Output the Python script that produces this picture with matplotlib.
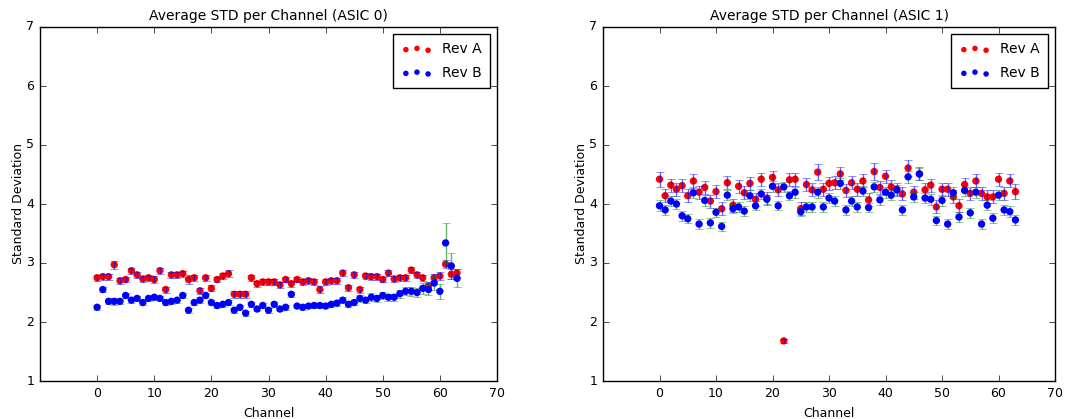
import numpy as np
import matplotlib
matplotlib.use("Agg")
import matplotlib.pyplot as plt

plt.style.use('classic')
plt.rcParams['font.family'] = ['DejaVu Sans']

channels = list(range(64))

# ASIC 0
a0_revA = [2.75, 2.77, 2.77, 2.97, 2.70, 2.72, 2.87, 2.80, 2.73, 2.75, 2.72, 2.87, 2.55, 2.80, 2.80, 2.82,
           2.72, 2.75, 2.53, 2.75, 2.57, 2.72, 2.78, 2.82, 2.47, 2.47, 2.47, 2.75, 2.65, 2.68, 2.68, 2.68,
           2.63, 2.72, 2.65, 2.72, 2.68, 2.70, 2.68, 2.55, 2.68, 2.70, 2.70, 2.83, 2.58, 2.80, 2.55, 2.78,
           2.77, 2.77, 2.72, 2.83, 2.73, 2.75, 2.75, 2.88, 2.80, 2.75, 2.61, 2.75, 2.78, 2.98, 2.81, 2.83]
a0_revA_err = [0.05, 0.05, 0.05, 0.07, 0.05, 0.05, 0.05, 0.05, 0.05, 0.05, 0.06, 0.05, 0.05, 0.05, 0.05, 0.05,
               0.08, 0.05, 0.05, 0.05, 0.05, 0.05, 0.05, 0.06, 0.06, 0.06, 0.06, 0.05, 0.05, 0.05, 0.05, 0.05,
               0.05, 0.05, 0.05, 0.05, 0.05, 0.05, 0.05, 0.06, 0.05, 0.05, 0.05, 0.05, 0.05, 0.05, 0.05, 0.05,
               0.05, 0.05, 0.05, 0.05, 0.05, 0.05, 0.05, 0.05, 0.05, 0.05, 0.06, 0.06, 0.06, 0.07, 0.08, 0.07]
a0_revB = [2.25, 2.55, 2.35, 2.35, 2.35, 2.45, 2.37, 2.40, 2.33, 2.40, 2.42, 2.40, 2.33, 2.35, 2.37, 2.45,
           2.20, 2.33, 2.37, 2.45, 2.33, 2.28, 2.30, 2.33, 2.20, 2.25, 2.15, 2.30, 2.22, 2.28, 2.20, 2.30,
           2.22, 2.25, 2.47, 2.27, 2.25, 2.27, 2.28, 2.28, 2.27, 2.30, 2.32, 2.37, 2.30, 2.33, 2.40, 2.37,
           2.42, 2.40, 2.45, 2.42, 2.42, 2.48, 2.52, 2.52, 2.50, 2.57, 2.55, 2.66, 2.52, 3.34, 2.95, 2.74]
a0_revB_err = [0.04, 0.04, 0.05, 0.06, 0.04, 0.04, 0.04, 0.04, 0.04, 0.04, 0.04, 0.04, 0.04, 0.04, 0.04, 0.04,
               0.04, 0.04, 0.05, 0.04, 0.04, 0.04, 0.04, 0.05, 0.04, 0.04, 0.04, 0.04, 0.04, 0.04, 0.04, 0.04,
               0.04, 0.04, 0.04, 0.04, 0.04, 0.04, 0.04, 0.04, 0.04, 0.04, 0.05, 0.05, 0.05, 0.05, 0.06, 0.05,
               0.07, 0.06, 0.06, 0.06, 0.06, 0.07, 0.07, 0.08, 0.08, 0.09, 0.10, 0.12, 0.13, 0.33, 0.22, 0.15]

# ASIC 1
a1_revA = [4.42, 4.14, 4.32, 4.25, 4.31, 4.14, 4.39, 4.20, 4.28, 4.05, 4.21, 3.92, 4.36, 3.98, 4.30, 4.19,
           4.35, 4.08, 4.42, 4.10, 4.45, 4.24, 1.68, 4.41, 4.42, 3.92, 4.33, 4.24, 4.54, 4.25, 4.35, 4.36,
           4.51, 4.23, 4.36, 4.25, 4.39, 4.07, 4.55, 4.28, 4.47, 4.29, 4.25, 4.17, 4.61, 4.20, 4.51, 4.24,
           4.32, 3.95, 4.25, 4.25, 4.12, 3.97, 4.33, 4.18, 4.39, 4.18, 4.12, 4.12, 4.42, 4.18, 4.39, 4.21]
a1_revA_err = [0.13, 0.11, 0.11, 0.11, 0.11, 0.11, 0.12, 0.11, 0.11, 0.11, 0.11, 0.11, 0.11, 0.11, 0.11, 0.11,
               0.11, 0.11, 0.11, 0.11, 0.11, 0.11, 0.03, 0.11, 0.11, 0.11, 0.11, 0.11, 0.14, 0.11, 0.11, 0.11,
               0.11, 0.11, 0.11, 0.11, 0.11, 0.11, 0.14, 0.11, 0.11, 0.11, 0.11, 0.11, 0.14, 0.11, 0.11, 0.11,
               0.11, 0.11, 0.11, 0.11, 0.11, 0.11, 0.11, 0.11, 0.11, 0.11, 0.11, 0.11, 0.11, 0.11, 0.11, 0.13]
a1_revB = [3.97, 3.90, 4.05, 4.00, 3.80, 3.75, 4.19, 3.66, 4.06, 3.68, 3.86, 3.62, 4.15, 3.92, 3.95, 3.88,
           4.14, 3.97, 4.17, 4.08, 4.30, 3.97, 4.29, 4.14, 4.20, 3.87, 3.95, 3.95, 4.20, 3.95, 4.10, 4.05,
           4.35, 3.90, 4.05, 3.95, 4.22, 3.94, 4.29, 4.07, 4.20, 4.15, 4.24, 3.90, 4.46, 4.12, 4.51, 4.10,
           4.08, 3.72, 4.06, 3.66, 4.19, 3.78, 4.23, 3.85, 4.20, 3.66, 3.98, 3.76, 4.15, 3.90, 3.87, 3.73]
a1_revB_err = [0.09, 0.08, 0.09, 0.09, 0.08, 0.08, 0.09, 0.08, 0.09, 0.08, 0.08, 0.08, 0.09, 0.08, 0.09, 0.08,
               0.09, 0.08, 0.09, 0.08, 0.09, 0.08, 0.09, 0.08, 0.09, 0.08, 0.08, 0.08, 0.09, 0.08, 0.09, 0.08,
               0.09, 0.08, 0.09, 0.08, 0.09, 0.08, 0.09, 0.08, 0.09, 0.08, 0.09, 0.08, 0.10, 0.08, 0.10, 0.08,
               0.09, 0.08, 0.09, 0.08, 0.09, 0.08, 0.09, 0.08, 0.09, 0.08, 0.09, 0.08, 0.09, 0.08, 0.09, 0.08]

titles = ['Average STD per Channel (ASIC 0)', 'Average STD per Channel (ASIC 1)']
xticks = [0, 10, 20, 30, 40, 50, 60, 70]
yticks = [1, 2, 3, 4, 5, 6, 7]

fig = plt.figure(figsize=(10.68, 4.19), dpi=100, facecolor='white')
ax0 = fig.add_axes([40/1068, 38/419, 457/1068, 354/419])
ax1 = fig.add_axes([603/1068, 38/419, 452/1068, 354/419])

datasets = [(a0_revA, a0_revA_err, a0_revB, a0_revB_err),
            (a1_revA, a1_revA_err, a1_revB, a1_revB_err)]

for ax, title, (ya, ea, yb, eb) in zip([ax0, ax1], titles, datasets):
    ax.scatter(channels, ya, s=28, c='r', edgecolors='none', label='Rev A', zorder=2)
    ax.errorbar(channels, ya, yerr=ea, fmt='none', ecolor='b', elinewidth=1,
                capsize=3, alpha=0.6, zorder=3)
    ax.scatter(channels, yb, s=28, c='b', edgecolors='none', label='Rev B', zorder=4)
    ax.errorbar(channels, yb, yerr=eb, fmt='none', ecolor='g', elinewidth=1,
                capsize=3, alpha=0.6, zorder=3)
    ax.set_xlim(-10, 70)
    ax.set_ylim(1, 7)
    ax.set_xticks(xticks)
    ax.set_yticks(yticks)
    ax.tick_params(labelsize=9)
    ax.set_title(title, fontsize=10)
    ax.set_xlabel('Channel', fontsize=9)
    ax.set_ylabel('Standard Deviation', fontsize=9, labelpad=1)
    ax.legend(loc='upper right', fontsize=10, scatterpoints=3, frameon=True,
              fancybox=False, borderpad=0.6, handletextpad=0.7, labelspacing=0.7,
              markerscale=0.75, handlelength=2.2)

fig.savefig('out.png', dpi=100, facecolor='white')
